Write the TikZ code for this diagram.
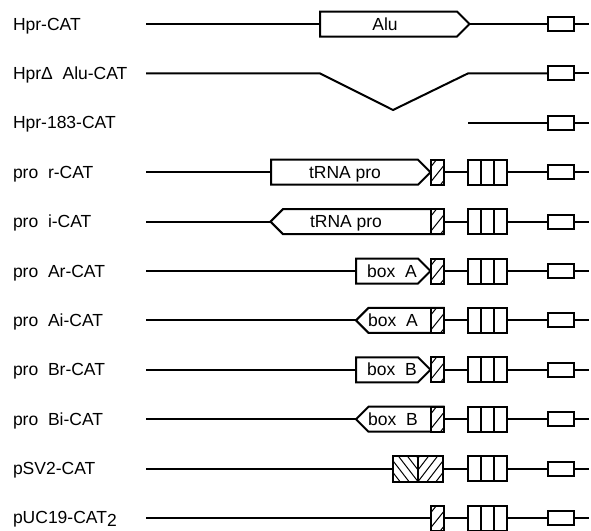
\documentclass[tikz,border=0pt]{standalone}
\usepackage{fontspec}
\setmainfont{Liberation Sans}
\newcommand\cassette[2]{%
  \node[hatchbox] (#1h) at (437,#2) {};
  \node[cellbox] (#1k) at (487,#2) {};
  \node[catbox] (#1c) at (561,#2) {};
  \coordinate (#1e) at (589,#2);
  \draw (#1h) -- (#1k);
  \draw (#1k) -- (#1c);
  \draw (#1c) -- (#1e);
}
\newcommand\catonly[2]{%
  \node[catbox] (#1c) at (561,#2) {};
  \coordinate (#1e) at (589,#2);
  \draw (#1c) -- (#1e);
}
\begin{document}
\begin{tikzpicture}[x=1pt,y=-1pt,line width=2pt,
  lbl/.style={anchor=base west,inner sep=0pt,font=\fontsize{17.5}{20}\selectfont},
  btxt/.style={anchor=base,inner sep=0pt,font=\fontsize{17.5}{20}\selectfont},
  hline/.style={line width=1pt},
  hatchbox/.style={draw,rectangle,fill=white,minimum width=13pt,minimum height=25pt,inner sep=0pt,outer sep=0pt,
    path picture={\foreach \d in {-14,-2,10}{\draw[hline] ([xshift=\d pt]path picture bounding box.south west) -- ++(20pt,25pt);}}},
  cellbox/.style={draw,rectangle,minimum width=39pt,minimum height=25pt,inner sep=0pt,outer sep=0pt,
    path picture={\foreach \d in {13,26}{\draw ([xshift=\d pt]path picture bounding box.south west) -- ([xshift=\d pt]path picture bounding box.north west);}}},
  catbox/.style={draw,rectangle,minimum width=26pt,minimum height=14pt,inner sep=0pt,outer sep=0pt},
  svbox/.style={draw,rectangle,minimum width=50pt,minimum height=26pt,inner sep=0pt,outer sep=0pt,
    path picture={
      \draw (path picture bounding box.south) -- (path picture bounding box.north);
      \begin{scope}
        \clip (path picture bounding box.south) rectangle (path picture bounding box.north east);
        \foreach \d in {-27,-18,-9,0,9,18,27}{\draw[hline] ([xshift=\d pt]path picture bounding box.south) -- ++(20pt,26pt);}
      \end{scope}
      \begin{scope}
        \clip (path picture bounding box.south) rectangle (path picture bounding box.north west);
        \foreach \d in {-27,-18,-9,0,9,18,27}{\draw[hline] ([xshift=-\d pt]path picture bounding box.south) -- ++(-20pt,26pt);}
      \end{scope}
    }},
  gene/.style={draw,line join=miter},
]
\useasboundingbox (0,0) rectangle (591,530);

% ---------- labels ----------
\node[lbl] (l1) at (12,30) {Hpr-CAT};
\node[lbl] (l2) at (12,79.4) {HprΔ~~Alu-CAT};
\node[lbl] (l3) at (12,128.8) {Hpr-183-CAT};
\node[lbl] (l4) at (12,178.2) {pro~~r-CAT};
\node[lbl] (l5) at (12,227.6) {pro~~i-CAT};
\node[lbl] (l6) at (12,277) {pro~~Ar-CAT};
\node[lbl] (l7) at (12,326.4) {pro~~Ai-CAT};
\node[lbl] (l8) at (12,375.8) {pro~~Br-CAT};
\node[lbl] (l9) at (12,425.2) {pro~~Bi-CAT};
\node[lbl] (l10) at (12,474.6) {pSV2-CAT};
\node[lbl] (l11) at (12,523) {pUC19-CAT\raisebox{-3pt}{2}};

% ---------- row 1: Hpr-CAT ----------
\coordinate (a0) at (146,24);
\coordinate (aL) at (320,24);
\coordinate (aR) at (469.5,24);
\draw[gene] (aL) -- (320,11.5) -- (457,11.5) -- (aR) -- (457,36.5) -- (320,36.5) -- cycle;
\node[btxt] (at) at (385,30) {Alu};
\catonly{a}{24}
\draw (a0) -- (aL);
\draw (aR) -- (ac);

% ---------- row 2: Hpr delta Alu-CAT ----------
\coordinate (b0) at (146,73.4);
\coordinate (bA) at (320,73.4);
\coordinate (bV) at (393,110);
\coordinate (bB) at (468,73.4);
\catonly{b}{73.4}
\draw[line join=miter] (b0) -- (bA) -- (bV) -- (bB) -- (bc);

% ---------- row 3: Hpr-183-CAT ----------
\coordinate (c0) at (468,122.8);
\catonly{c}{122.8}
\draw (c0) -- (cc);

% ---------- row 4: pro r-CAT ----------
\coordinate (d0) at (146,172.2);
\coordinate (dL) at (271,172.2);
\coordinate (dR) at (430.5,172.2);
\draw[gene] (dL) -- (271,159.7) -- (418,159.7) -- (dR) -- (418,184.7) -- (271,184.7) -- cycle;
\node[btxt] (dt) at (345,178.2) {tRNA pro};
\cassette{d}{172.2}
\draw (d0) -- (dL);

% ---------- row 5: pro i-CAT ----------
\coordinate (e0) at (146,221.6);
\coordinate (eL) at (270.5,221.6);
\draw[gene] (eL) -- (283,209.1) -- (443.5,209.1) -- (443.5,234.1) -- (283,234.1) -- cycle;
\node[btxt] (et) at (346,227.6) {tRNA pro};
\cassette{e}{221.6}
\draw (e0) -- (eL);

% ---------- row 6: pro Ar-CAT ----------
\coordinate (f0) at (146,271);
\coordinate (fL) at (356,271);
\coordinate (fR) at (430.5,271);
\draw[gene] (fL) -- (356,258.5) -- (418,258.5) -- (fR) -- (418,283.5) -- (356,283.5) -- cycle;
\node[btxt] (ft) at (392,277) {box~~A};
\cassette{f}{271}
\draw (f0) -- (fL);

% ---------- row 7: pro Ai-CAT ----------
\coordinate (g0) at (146,320.4);
\coordinate (gL) at (356,320.4);
\draw[gene] (gL) -- (368.5,307.9) -- (443.5,307.9) -- (443.5,332.9) -- (368.5,332.9) -- cycle;
\node[btxt] (gt) at (393,326.4) {box~~A};
\cassette{g}{320.4}
\draw (g0) -- (gL);

% ---------- row 8: pro Br-CAT ----------
\coordinate (h0) at (146,369.8);
\coordinate (hL) at (356,369.8);
\coordinate (hR) at (430.5,369.8);
\draw[gene] (hL) -- (356,357.3) -- (418,357.3) -- (hR) -- (418,382.3) -- (356,382.3) -- cycle;
\node[btxt] (ht) at (392,375.8) {box~~B};
\cassette{h}{369.8}
\draw (h0) -- (hL);

% ---------- row 9: pro Bi-CAT ----------
\coordinate (i0) at (146,419.2);
\coordinate (iL) at (356,419.2);
\draw[gene] (iL) -- (368.5,406.7) -- (443.5,406.7) -- (443.5,431.7) -- (368.5,431.7) -- cycle;
\node[btxt] (it) at (393,425.2) {box~~B};
\cassette{i}{419.2}
\draw (i0) -- (iL);

% ---------- row 10: pSV2-CAT ----------
\coordinate (j0) at (146,468.6);
\node[svbox] (jh) at (418,468.6) {};
\node[cellbox] (jk) at (487,468.6) {};
\catonly{j}{468.6}
\draw (j0) -- (jh);
\draw (jh) -- (jk);
\draw (jk) -- (jc);

% ---------- row 11: pUC19-CAT2 ----------
\coordinate (k0) at (146,518);
\cassette{k}{518}
\draw (k0) -- (kh);
\end{tikzpicture}
\end{document}
